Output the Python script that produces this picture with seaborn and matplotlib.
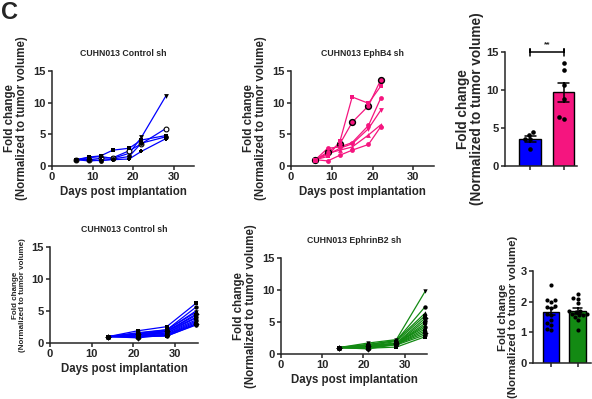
#!/usr/bin/env python3
import numpy as np
import pandas as pd
import seaborn as sns
import matplotlib.pyplot as plt

BLUE = '#0000FF'
PINK = '#F5157F'
GREEN = '#138A13'

# Top row: CUHN013, fold change per mouse (normalised to first volume)
ctrl_days_top = [6, 9, 12, 15, 19, 22, 28]
ctrl_top = [
    [1.0, 1.3, 1.5, 1.2, 2.0, 4.5, 11.0],
    [1.0, 1.0, 1.2, 1.3, 2.4, 3.5, 5.9],
    [1.0, 1.4, 1.6, 2.5, 2.8, 4.1, 4.8],
    [1.0, 0.8, 0.9, 1.0, 1.1, 2.3, 4.3],
    [1.0, 1.1, 0.8, 1.1, 1.5, 3.6, 4.6],
]
ephb4_days = [6, 9, 12, 15, 19, 22]
ephb4_top = [
    [1.0, 2.2, 3.5, 6.9, 9.5, 13.6],
    [1.0, 1.5, 3.9, 10.9, 9.9, 12.6],
    [1.0, 2.8, 3.0, 3.7, 6.4, 10.7],
    [1.0, 1.8, 2.8, 3.5, 5.9, 8.8],
    [1.0, 2.0, 2.5, 3.0, 4.9, 6.5],
    [1.0, 0.8, 1.7, 2.5, 3.4, 6.2],
]

# Bottom row
bottom_days = [14, 21, 28, 35]
ctrl_bottom = [
    [1.0, 1.9, 2.55, 6.2],
    [1.0, 1.5, 2.05, 5.6],
    [1.0, 1.3, 2.00, 5.0],
    [1.0, 1.6, 2.07, 4.8],
    [1.0, 1.4, 1.83, 4.5],
    [1.0, 1.2, 1.85, 4.3],
    [1.0, 1.1, 1.80, 4.0],
    [1.0, 1.0, 1.60, 3.9],
    [1.0, 1.3, 1.55, 3.6],
    [1.0, 0.9, 1.40, 3.4],
    [1.0, 1.2, 1.30, 3.2],
    [1.0, 0.8, 1.25, 3.0],
    [1.0, 1.0, 1.08, 2.9],
    [1.0, 1.1, 1.10, 2.8],
]
ephrinb2_bottom = [
    [1.0, 1.7, 2.25, 9.8],
    [1.0, 1.5, 2.10, 7.4],
    [1.0, 1.4, 2.12, 6.4],
    [1.0, 1.3, 1.95, 6.0],
    [1.0, 1.2, 1.70, 5.6],
    [1.0, 1.3, 1.65, 5.2],
    [1.0, 1.1, 1.60, 4.8],
    [1.0, 1.0, 1.60, 4.5],
    [1.0, 1.2, 1.68, 4.2],
    [1.0, 0.9, 1.58, 3.9],
    [1.0, 1.0, 1.55, 3.6],
    [1.0, 0.8, 1.50, 3.3],
    [1.0, 1.1, 1.40, 3.0],
    [1.0, 0.9, 1.08, 2.7],
]

YLABEL = 'Fold change\n(Normalized to tumor volume)'


def to_long(days, mice):
    rows = []
    for i, vals in enumerate(mice):
        for d, v in zip(days, vals):
            rows.append({'mouse': f'm{i}', 'day': d, 'fold': v})
    return pd.DataFrame(rows)


def style_axes(ax, ylim, yticks):
    sns.despine(ax=ax)
    for s in ('left', 'bottom'):
        ax.spines[s].set_linewidth(1.1)
    ax.set_ylim(*ylim)
    ax.set_yticks(yticks)
    ax.tick_params(length=3, width=1.1, labelsize=8, pad=1.5)


def growth_panel(ax, days, mice, line_color, markers, title, mcolor='black',
                 msize=12, open_idx=(), edge_idx=(), xmax=35, ylab_size=8.3):
    df = to_long(days, mice)
    sns.lineplot(data=df, x='day', y='fold', units='mouse', estimator=None,
                 color=line_color, lw=0.9, ax=ax, legend=False)
    for i, mk in zip(range(len(mice)), markers):
        sub = df[df['mouse'] == f'm{i}']
        if i in open_idx:
            sns.scatterplot(data=sub, x='day', y='fold', marker=mk, s=msize,
                            facecolor='white', edgecolor='black', linewidth=0.8,
                            ax=ax, zorder=3, clip_on=False)
        elif i in edge_idx:
            sns.scatterplot(data=sub, x='day', y='fold', marker=mk, s=msize + 6,
                            facecolor=mcolor, edgecolor='black', linewidth=1.0,
                            ax=ax, zorder=3, clip_on=False)
        else:
            sns.scatterplot(data=sub, x='day', y='fold', marker=mk, s=msize,
                            color=mcolor, linewidth=0, ax=ax, zorder=3, clip_on=False)
    style_axes(ax, (0, 15), [0, 5, 10, 15])
    ax.set_xlim(0, xmax)
    ax.set_xticks([0, 10, 20, 30])
    ax.set_title(title, fontsize=6.3, pad=11)
    ax.set_xlabel('Days post implantation', fontsize=8.3, labelpad=3)
    ax.set_ylabel(YLABEL, fontsize=ylab_size, labelpad=4, linespacing=1.0)


def bar_panel(ax, groups, values, colors, ylim, yticks, width, xlim, ylab_size, msize):
    df = pd.DataFrame({'group': np.repeat(groups, [len(v) for v in values]),
                       'fold': np.concatenate(values)})
    sns.barplot(data=df, x='group', y='fold', hue='group', order=groups,
                hue_order=groups, palette=colors, saturation=1, legend=False,
                errorbar='se', capsize=0.33, width=width, edgecolor='black',
                linewidth=1.0, err_kws={'color': 'black', 'linewidth': 1.1}, ax=ax)
    sns.swarmplot(data=df, x='group', y='fold', order=groups, color='black',
                  size=msize, ax=ax, zorder=4)
    style_axes(ax, ylim, yticks)
    ax.set_xlim(*xlim)
    ax.set_xticks(range(len(groups)))
    ax.set_xticklabels([''] * len(groups))
    ax.set_xlabel('')
    ax.set_ylabel(YLABEL, fontsize=ylab_size, labelpad=2, linespacing=1.0)


sns.set_style('ticks')
plt.rcParams['font.family'] = ['Liberation Sans', 'DejaVu Sans']
plt.rcParams['font.weight'] = 'bold'
plt.rcParams['axes.labelweight'] = 'bold'
plt.rcParams['axes.titleweight'] = 'bold'

fig = plt.figure(figsize=(5.92, 3.99), dpi=100)

# panel positions in figure fractions
ax_tl = fig.add_axes([0.0878, 0.584, 0.240, 0.238])
ax_tm = fig.add_axes([0.4916, 0.584, 0.241, 0.238])
ax_tr = fig.add_axes([0.853, 0.584, 0.1216, 0.285])
ax_bl = fig.add_axes([0.0845, 0.1404, 0.250, 0.2406])
ax_bm = fig.add_axes([0.4747, 0.1128, 0.2470, 0.2406])
ax_br = fig.add_axes([0.9003, 0.0902, 0.098, 0.2306])

growth_panel(ax_tl, ctrl_days_top, ctrl_top, BLUE, ['v', 'o', 's', 'P', 'o'],
             'CUHN013 Control sh', open_idx=(1,))
growth_panel(ax_tm, ephb4_days, ephb4_top, PINK, ['o', 's', 'o', 'v', '^', 'o'],
             'CUHN013 EphB4 sh', mcolor=PINK, edge_idx=(0,))
growth_panel(ax_bl, bottom_days, ctrl_bottom, BLUE,
             ['s', 'o', '^', 'v', 'D', 's', 'o'] * 2, 'CUHN013 Control sh',
             msize=10, xmax=35.5, ylab_size=5.8)
growth_panel(ax_bm, bottom_days, ephrinb2_bottom, GREEN,
             ['v', 'o', '^', 's', 'D', 'o', 's'] * 2, 'CUHN013 EphrinB2 sh',
             msize=10, xmax=35.5)

# endpoint comparisons (day 22 top, day 28 bottom)
top_bar_vals = [[m[5] for m in ctrl_top], [m[5] for m in ephb4_top]]
bar_panel(ax_tr, ['Control sh', 'EphB4 sh'], top_bar_vals, [BLUE, PINK],
          (0, 15), [0, 5, 10, 15], 0.65, (-0.75, 1.4), 9.8, 3.3)
ax_tr.plot([0, 0, 0, 1, 1, 1], [14.5, 15.45, 15.0, 15.0, 15.45, 14.5],
           color='black', lw=1.1, clip_on=False)
ax_tr.text(0.5, 15.5, '**', ha='center', va='bottom', fontsize=6)

bottom_bar_vals = [[m[2] for m in ctrl_bottom], [m[2] for m in ephrinb2_bottom]]
bar_panel(ax_br, ['Control sh', 'EphrinB2 sh'], bottom_bar_vals, [BLUE, GREEN],
          (0, 3), [0, 1, 2, 3], 0.62, (-0.68, 1.5), 8.2, 3.0)

fig.text(0.002, 0.998, 'C', fontsize=17, fontweight='bold', ha='left', va='top')

fig.savefig('out.png', dpi=100)
